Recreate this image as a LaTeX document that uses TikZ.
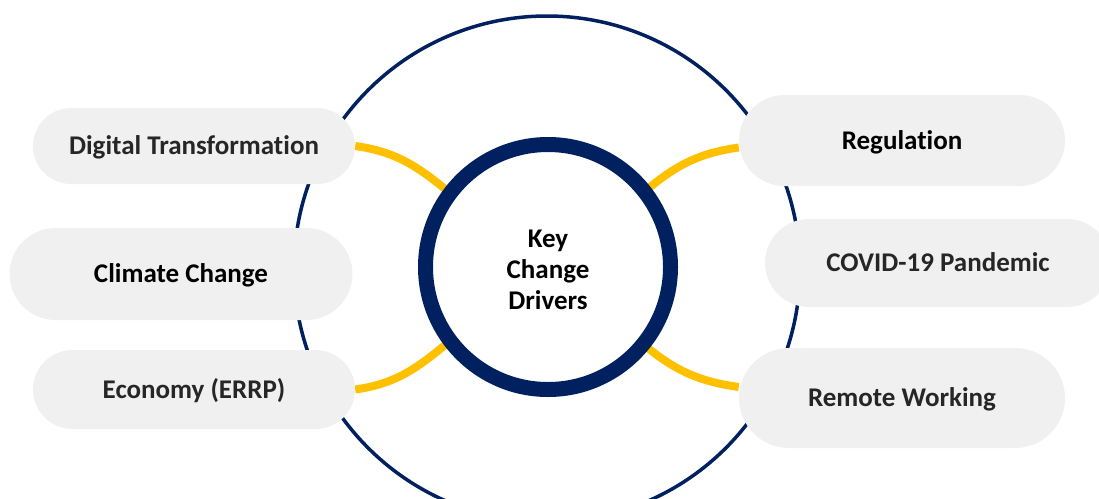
\documentclass[tikz,border=0pt]{standalone}
\usepackage{fontspec}
\setmainfont{Carlito}[Ligatures=NoCommon]
\usetikzlibrary{shapes.misc, backgrounds}
\definecolor{navy}{HTML}{002060}
\definecolor{gold}{HTML}{FFC000}
\definecolor{pillgray}{HTML}{F0F0F0}
\definecolor{inkgray}{HTML}{262626}
\tikzstyle{driver} = [rounded rectangle, fill=pillgray, text=inkgray, inner sep=0pt, text height=17pt, text depth=0pt, font=\fontsize{27}{31}\selectfont\bfseries]
\tikzstyle{hub} = [circle, draw=navy, line width=15pt, fill=white, minimum size=245pt, outer sep=0pt, font=\fontsize{27}{31}\selectfont\bfseries]
\tikzstyle{orbit} = [circle, draw=navy, line width=3.5pt, minimum size=506pt]
\tikzstyle{link} = [draw=gold, line width=8pt]
\begin{document}
\begin{tikzpicture}[x=1pt, y=-1pt]
\useasboundingbox (0,0) rectangle (1099,498);

\node (hub) [hub] at (548,267) {\raisebox{-5pt}[\height][\depth]{\begin{tabular}{@{}c@{}}Key\\Change\\Drivers\end{tabular}}};

\node (digital) [driver, minimum width=322pt, minimum height=76pt] at (194,146) {Digital Transformation};
\node (climate) [driver, text=black, minimum width=343pt, minimum height=92pt] at (181,274) {Climate Change};
\node (economy) [driver, minimum width=322pt, minimum height=79pt] at (194,389.5) {Economy (ERRP)};

\node (regulation) [driver, text=black, minimum width=326pt, minimum height=91pt] at (902,140.5) {Regulation};
\node (covid) [driver, minimum width=346pt, minimum height=88pt] at (938,263) {COVID-19 Pandemic};
\node (remote) [driver, minimum width=326pt, minimum height=100pt] at (902,398) {Remote Working};

\begin{scope}[on background layer]
\node (ring) [orbit] at (547,269) {};
\draw [link] (digital.east) to[out=-8, in=140] (hub.143);
\draw [link] (economy.east) to[out=8, in=220] (hub.217);
\draw [link] (hub.38) to[out=40, in=188] ([yshift=-7pt]regulation.west);
\draw [link] (hub.321) to[out=-40, in=172] ([yshift=11pt]remote.west);
\end{scope}
\end{tikzpicture}
\end{document}
